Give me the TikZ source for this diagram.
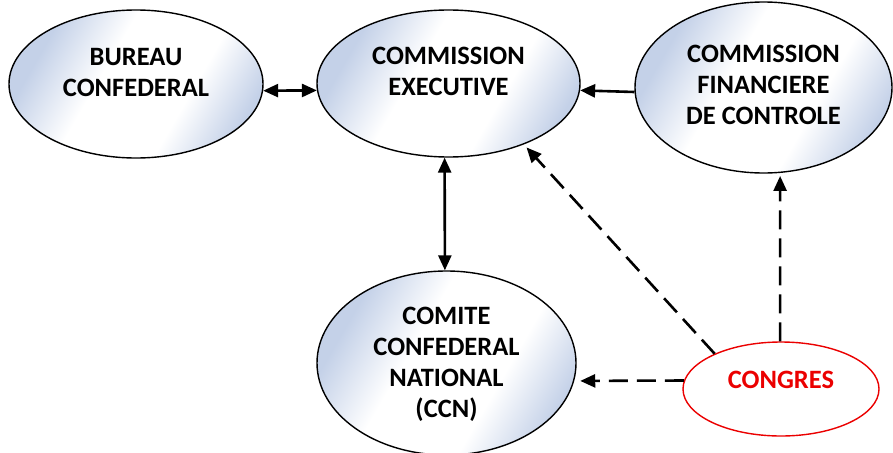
\documentclass[tikz,border=0pt]{standalone}
\usepackage{fontspec}
\setmainfont{Carlito}
\usetikzlibrary{shapes.geometric,arrows.meta}

\definecolor{ellblue}{RGB}{196,209,232}
\definecolor{congred}{RGB}{235,0,0}

% soft diagonal glaze: bluish at two opposite rims, white through the middle
\pgfdeclarehorizontalshading{glaze}{100bp}{%
  color(0bp)=(ellblue); color(27bp)=(ellblue); color(42bp)=(white);
  color(62bp)=(white); color(76bp)=(ellblue); color(100bp)=(ellblue)}

\tikzset{
  organ/.style={ellipse, draw=black, line width=1.4pt, inner sep=0pt,
    shading=glaze, shading angle=-30},
  congbox/.style={ellipse, draw=congred, line width=1.4pt, inner sep=0pt, fill=white},
  tag/.style={align=center, font=\fontsize{26.5}{31}\selectfont\bfseries},
  link/.style={line width=2.6pt, -{Triangle[length=15pt,width=13pt]}},
  duallink/.style={line width=2.6pt, {Triangle[length=15pt,width=13pt]}-{Triangle[length=15pt,width=13pt]}},
  vote/.style={link, dash pattern=on 19pt off 9pt}
}

\begin{document}
\begin{tikzpicture}[x=1pt,y=-1pt]
  \useasboundingbox (0,0) rectangle (893,452);

  % bodies of the confederation
  \node[organ, minimum width=254pt, minimum height=148pt,
        label={[tag, yshift=12pt]center:BUREAU\\CONFEDERAL}] (bureau) at (136,84) {};
  \node[organ, minimum width=263pt, minimum height=147pt,
        label={[tag, yshift=12pt]center:COMMISSION\\EXECUTIVE}] (exec) at (448.5,83.5) {};
  \node[organ, minimum width=257pt, minimum height=171pt,
        label={[tag, yshift=3pt]center:COMMISSION\\FINANCIERE\\DE CONTROLE}] (cfc) at (763.5,87.5) {};
  \node[organ, minimum width=259pt, minimum height=184pt,
        label={[tag, yshift=-1pt]center:COMITE\\CONFEDERAL\\NATIONAL\\(CCN)}] (ccn) at (446.5,363) {};
  \node[congbox, minimum width=196pt, minimum height=94pt,
        label={[tag, text=congred, yshift=9pt]center:CONGRES}] (congres) at (781,389) {};

  % permanent relations
  \draw[duallink] (bureau.-3.8) -- (exec.183.6);
  \draw[link] (cfc.182) -- (exec.-3.7);
  \draw[duallink] (exec.267.3) -- (ccn.91);

  % bodies elected by the congress
  \draw[vote, shorten >=4pt] (congres.152.5) -- (exec.-39);
  \draw[vote, shorten >=3pt] (congres.91.2) -- (cfc.-79.7);
  \draw[vote, shorten >=6pt] (congres.175.3) -- (ccn.-8.1);
\end{tikzpicture}
\end{document}
